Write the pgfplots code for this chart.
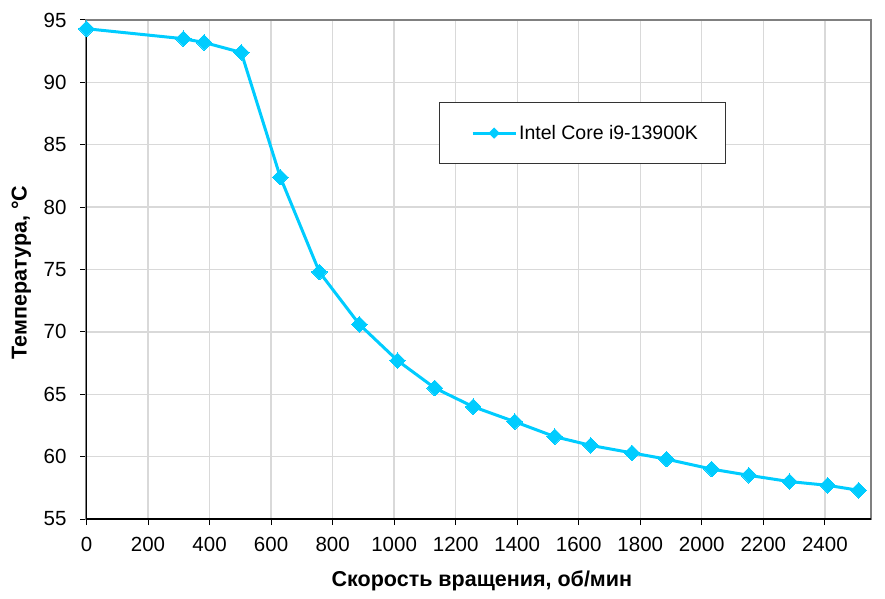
\documentclass[border=0pt]{standalone}
\usepackage{fontspec}
\setmainfont{Liberation Sans}
\usepackage{pgfplots}
\pgfplotsset{compat=1.18}
\definecolor{cyanline}{RGB}{0,204,255}
\definecolor{gridgray}{RGB}{217,217,217}
\definecolor{framegray}{RGB}{128,128,128}
\newcommand\tickfont{\fontsize{20.5bp}{24bp}\selectfont}
\newcommand\labfont{\fontsize{21.5bp}{25bp}\selectfont\bfseries}
\begin{document}
\begin{tikzpicture}
\begin{axis}[
  scale only axis,
  width=784.5bp, height=499bp,
  xmin=0, xmax=2550, ymin=55, ymax=95,
  xtick={0,200,...,2400},
  ytick={55,60,...,95},
  /pgf/number format/assume math mode=true,
  /pgf/number format/1000 sep={},
  xticklabel={\tickfont\pgfmathprintnumber{\tick}},
  yticklabel={\tickfont\pgfmathprintnumber{\tick}},
  tick label style={black},
  xticklabel style={yshift=-9bp},
  yticklabel style={xshift=-10.5bp},
  tick align=outside,
  major tick length=6bp,
  tick style={black, line width=1bp},
  grid=major,
  grid style={gridgray, line width=1.3bp},
  axis line style={framegray, line width=2bp},
  xtick pos=bottom, ytick pos=left,
  xlabel={\labfont Скорость вращения, об/мин},
  ylabel={\labfont Температура, °C},
  xlabel style={at={(axis description cs:0.504,-0.124)}, anchor=center},
  ylabel style={at={(axis description cs:-0.083,0.494)}, anchor=center, rotate=0},
  legend style={at={(rel axis cs:0.449,0.836)}, anchor=north west,
    draw=black!80, line width=0.8bp, inner xsep=25bp, inner ysep=21bp,
    font=\fontsize{19.5bp}{23bp}\selectfont, cells={anchor=west}},
  legend image code/.code={
    \path (-7bp,0bp);
    \draw[#1, mark=none] (0bp,0bp) -- (43bp,0bp);
    \fill[cyanline] (21.5bp,0bp) ++(0,3.5bp) -- ++(3.5bp,-3.5bp) -- ++(-3.5bp,-3.5bp) -- ++(-3.5bp,3.5bp) -- cycle;
  },
  clip=false,
]
\addplot[cyanline, line width=3bp, mark=square*, mark size=5.5bp,
  mark options={rotate=45, line width=0bp, fill=cyanline, draw=cyanline}]
coordinates {
(0,94.3) (315,93.5) (382,93.2) (503,92.4) (630,82.4) (757,74.8) (887,70.6)
(1011,67.7) (1132,65.5) (1257,64.0) (1392,62.8) (1522,61.6) (1639,60.9)
(1773,60.3) (1885,59.8) (2032,59.0) (2153,58.5) (2285,58.0) (2409,57.7) (2510,57.3)
};
\addlegendentry{Intel Core i9-13900K}
\draw[black, line width=1.5bp] (rel axis cs:0,0) -- (rel axis cs:0,1);
\draw[black, line width=1.5bp] (rel axis cs:0,0) -- (rel axis cs:1,0);
\end{axis}
\path (current axis.south west) ++(-86.5bp,-80bp) rectangle ++(885bp,599bp);
\end{tikzpicture}
\end{document}
